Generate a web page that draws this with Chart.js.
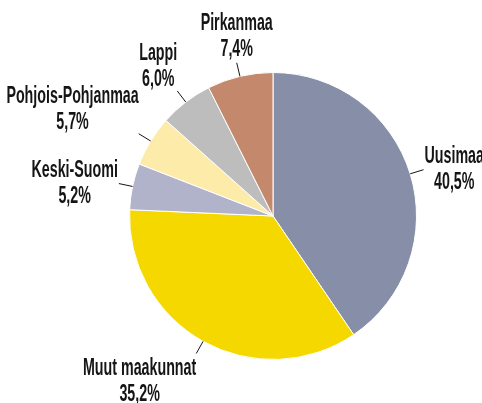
<!DOCTYPE html>
<html>
<head>
<meta charset="utf-8">
<script src="https://cdn.jsdelivr.net/npm/chart.js@4.4.1/dist/chart.umd.min.js"></script>
<style>
    body { margin: 0; background: #fff; }
    #wrap { width: 482px; height: 403px; position: relative; }
</style>
</head>
<body>
<div id="wrap"><canvas id="pie-chart"></canvas></div>
<script>
var regions = ['Uusimaa', 'Muut maakunnat', 'Keski-Suomi', 'Pohjois-Pohjanmaa', 'Lappi', 'Pirkanmaa'];
var shares = [40.5, 35.2, 5.2, 5.7, 6.0, 7.4];
var sliceColors = ['#878ea8', '#f5d800', '#b1b3cb', '#fdeba9', '#bdbdbd', '#c4896c'];

// labels with short leader lines outside the pie
var outsideLabels = {
    id: 'outsideLabels',
    afterDatasetsDraw: function (chart) {
        var ctx = chart.ctx;
        var meta = chart.getDatasetMeta(0);
        var sx = 0.62;
        var lineH = 26;
        ctx.save();
        ctx.font = 'bold 23px "Liberation Sans", Arial, sans-serif';
        ctx.fillStyle = '#151515';
        ctx.strokeStyle = '#151515';
        ctx.lineWidth = 1;
        ctx.textBaseline = 'middle';
        ctx.textAlign = 'center';
        meta.data.forEach(function (arc, i) {
            var p = arc.getProps(['x', 'y', 'startAngle', 'endAngle', 'outerRadius'], true);
            var mid = (p.startAngle + p.endAngle) / 2;
            var c = Math.cos(mid), s = Math.sin(mid);
            var x0 = p.x + c * p.outerRadius, y0 = p.y + s * p.outerRadius;
            var x1 = p.x + c * (p.outerRadius + 14), y1 = p.y + s * (p.outerRadius + 14);
            ctx.beginPath();
            ctx.moveTo(x0, y0);
            ctx.lineTo(x1, y1);
            ctx.stroke();

            var lines = [regions[i], shares[i].toFixed(1).replace('.', ',') + '%'];
            var w = 0;
            lines.forEach(function (t) { w = Math.max(w, ctx.measureText(t).width * sx); });
            var h = lines.length * lineH;
            var cx, cy;
            if (Math.abs(c) >= 0.9) {
                cx = x1 + (c > 0 ? w / 2 + 1 : -w / 2 - 1);
                cy = y1;
            } else if (Math.abs(c) <= 0.3) {
                cx = x1;
                cy = y1 + (s > 0 ? h / 2 : -h / 2);
            } else {
                cx = x1 + (c > 0 ? w / 2 : -w / 2);
                cy = y1 + (s > 0 ? h / 2 + 2 : -h / 2 + 2);
            }
            lines.forEach(function (t, k) {
                ctx.save();
                ctx.translate(cx, cy - h / 2 + lineH * (k + 0.5));
                ctx.scale(sx, 1);
                ctx.fillText(t, 0, 0);
                ctx.restore();
            });
        });
        ctx.restore();
    }
};

new Chart(document.getElementById('pie-chart'), {
    type: 'pie',
    data: {
        labels: regions,
        datasets: [{
            data: shares,
            backgroundColor: sliceColors,
            borderColor: '#ffffff',
            borderWidth: 1
        }]
    },
    options: {
        responsive: true,
        maintainAspectRatio: false,
        animation: false,
        layout: { padding: { left: 129, right: 65, top: 72, bottom: 43 } },
        plugins: {
            legend: { display: false },
            tooltip: { enabled: false }
        }
    },
    plugins: [outsideLabels]
});
</script>
</body>
</html>
